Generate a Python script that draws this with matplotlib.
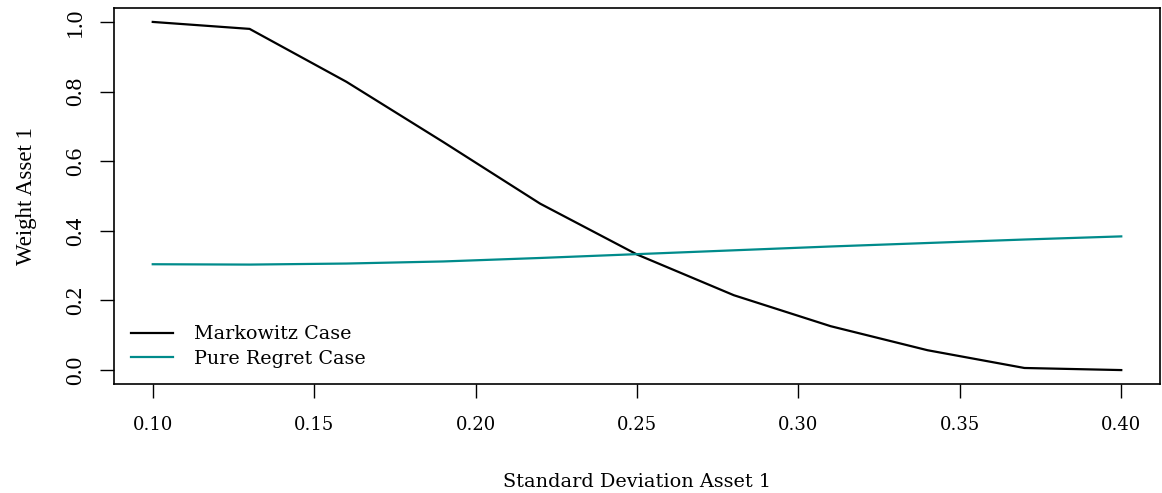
import numpy as np
import matplotlib
matplotlib.use("Agg")
import matplotlib.pyplot as plt

# weights of asset 1 against its standard deviation
sd_asset1 = [0.10, 0.13, 0.16, 0.19, 0.22, 0.25, 0.28, 0.31, 0.34, 0.37, 0.40]
w_markowitz = [1.000, 0.980, 0.828, 0.655, 0.478, 0.332, 0.215, 0.126, 0.057, 0.006, 0.000]
w_regret = [0.304, 0.303, 0.306, 0.312, 0.322, 0.333, 0.344, 0.355, 0.365, 0.375, 0.384]

x_ticks = [0.10, 0.15, 0.20, 0.25, 0.30, 0.35, 0.40]
y_ticks = [0.0, 0.2, 0.4, 0.6, 0.8, 1.0]

xfont = "DejaVu Serif"
yfont = "Liberation Serif"

fig = plt.figure(figsize=(11.62, 4.93), dpi=100)
ax = fig.add_axes([114 / 1162, 1 - 384 / 493, (1160 - 114) / 1162, (384 - 8) / 493])

ax.plot(sd_asset1, w_markowitz, color="black", lw=1.6, label="Markowitz Case")
ax.plot(sd_asset1, w_regret, color="#008b8b", lw=1.6, label="Pure Regret Case")

ax.set_xlim(0.088, 0.412)
ax.set_ylim(-0.04, 1.04)
ax.set_xticks(x_ticks)
ax.set_xticklabels([f"{v:.2f}" for v in x_ticks], fontfamily=xfont, fontsize=13)
ax.set_yticks(y_ticks)
ax.set_yticklabels([f"{v:.1f}" for v in y_ticks], fontfamily=yfont, fontsize=17,
                   rotation=90, va="center")
ax.tick_params(axis="x", direction="out", length=10, width=1, pad=13)
ax.tick_params(axis="y", direction="out", length=10, width=1, pad=10)
for s in ax.spines.values():
    s.set_linewidth(1.2)

ax.set_xlabel("Standard Deviation Asset 1", fontfamily=xfont, fontsize=13.9, labelpad=28)
ax.set_ylabel("Weight Asset 1", fontfamily=yfont, fontsize=16.5, labelpad=20)

leg = ax.legend(loc="lower left", frameon=False, prop={"family": xfont, "size": 13.8},
                handlelength=2.2, handletextpad=1.1, borderaxespad=0, borderpad=0,
                labelspacing=0.35, bbox_to_anchor=(17 / 1046, 16 / 376))

fig.savefig("out.png", dpi=100)
